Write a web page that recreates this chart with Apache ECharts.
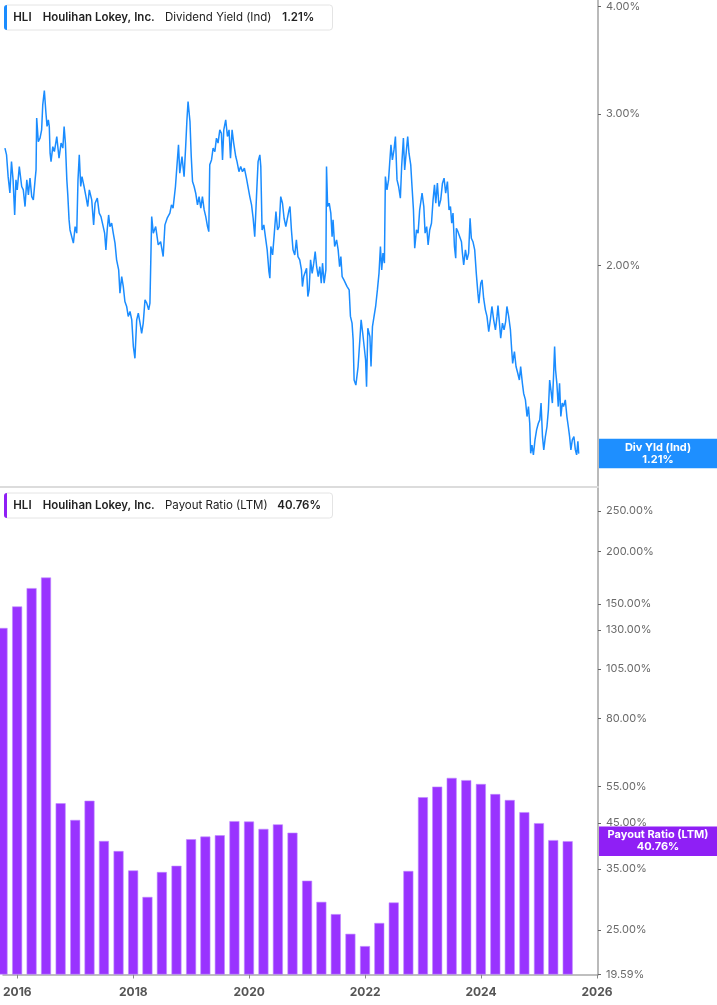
<!DOCTYPE html>
<html><head><meta charset="utf-8">
<script src="https://cdn.jsdelivr.net/npm/echarts@6/dist/echarts.min.js"></script>
<style>html,body{margin:0;padding:0;background:#fff}#c{width:717px;height:1005px}</style>
</head><body><div id="c"></div>
<script>
// ---- Dividend Yield (Ind), % ----
const divYield = [
['2015-11-03',2.738],['2015-11-13',2.689],['2015-11-23',2.537],['2015-12-04',2.429],['2015-12-14',2.641],['2015-12-24',2.515],
['2016-01-03',2.290],['2016-01-11',2.515],['2016-01-19',2.449],['2016-02-01',2.606],['2016-02-16',2.471],['2016-02-26',2.449],
['2016-03-08',2.342],['2016-03-19',2.515],['2016-03-29',2.416],['2016-04-08',2.527],['2016-04-19',2.405],['2016-04-29',2.384],
['2016-05-10',2.515],['2016-05-16',2.583],['2016-05-20',2.967],['2016-05-30',2.786],['2016-06-10',2.812],['2016-06-20',2.875],
['2016-06-27',3.074],['2016-07-07',3.193],['2016-07-17',3.007],['2016-07-24',2.901],['2016-08-01',2.953],['2016-08-07',2.901],
['2016-08-12',2.701],['2016-08-18',2.641],['2016-08-29',2.749],['2016-09-08',2.713],['2016-09-23',2.824],['2016-10-07',2.665],
['2016-10-20',2.775],['2016-10-31',2.738],['2016-11-08',2.901],['2016-11-16',2.775],['2016-11-25',2.515],['2016-12-01',2.416],
['2016-12-09',2.260],['2016-12-15',2.200],['2016-12-26',2.190],
['2017-01-05',2.124],['2017-01-16',2.220],['2017-01-26',2.181],['2017-02-03',2.515],['2017-02-11',2.689],['2017-02-20',2.471],
['2017-02-28',2.537],['2017-03-13',2.471],['2017-03-25',2.405],['2017-04-05',2.342],['2017-04-15',2.449],['2017-04-30',2.384],
['2017-05-12',2.230],['2017-05-21',2.363],['2017-06-04',2.395],['2017-06-16',2.301],['2017-06-27',2.280],['2017-07-11',2.220],
['2017-07-20',2.181],['2017-07-28',2.086],['2017-08-05',2.200],['2017-08-14',2.290],['2017-08-22',2.220],['2017-09-02',2.240],
['2017-09-12',2.181],['2017-09-23',2.124],['2017-10-03',2.031],['2017-10-16',1.977],['2017-10-24',1.858],['2017-11-04',1.942],
['2017-11-14',1.891],['2017-11-24',1.817],['2017-12-05',1.793],['2017-12-15',1.746],['2017-12-26',1.769],
['2018-01-06',1.730],['2018-01-16',1.611],['2018-01-26',1.561],['2018-02-06',1.730],['2018-02-16',1.761],['2018-02-27',1.715],
['2018-03-09',1.669],['2018-03-19',1.715],['2018-03-30',1.825],['2018-04-10',1.809],['2018-04-22',1.777],['2018-04-30',1.809],
['2018-05-11',2.280],['2018-05-21',2.181],['2018-06-05',2.220],['2018-06-21',2.114],['2018-07-06',2.132],['2018-07-22',2.049],
['2018-08-02',2.230],['2018-08-16',2.270],['2018-09-02',2.301],['2018-09-12',2.352],['2018-09-22',2.332],['2018-10-07',2.471],
['2018-10-13',2.561],['2018-10-26',2.762],['2018-11-03',2.561],['2018-11-17',2.677],['2018-11-30',2.537],['2018-12-10',2.749],
['2018-12-18',2.953],['2018-12-25',3.101],
['2019-01-06',2.940],['2019-01-14',2.677],['2019-01-22',2.504],['2019-02-01',2.471],['2019-02-11',2.427],['2019-02-22',2.352],
['2019-03-04',2.405],['2019-03-15',2.332],['2019-03-25',2.405],['2019-04-05',2.321],['2019-04-15',2.280],['2019-04-26',2.220],
['2019-05-04',2.190],['2019-05-10',2.618],['2019-05-21',2.653],['2019-05-31',2.738],['2019-06-11',2.713],['2019-06-21',2.812],
['2019-07-01',2.775],['2019-07-12',2.875],['2019-07-22',2.849],['2019-07-29',2.653],['2019-08-06',2.875],['2019-08-18',2.953],
['2019-08-29',2.824],['2019-09-08',2.875],['2019-09-17',2.665],['2019-09-27',2.875],['2019-10-07',2.775],['2019-10-20',2.677],
['2019-10-28',2.641],['2019-11-09',2.571],['2019-11-20',2.606],['2019-12-01',2.571],['2019-12-13',2.595],['2019-12-26',2.527],
['2020-01-06',2.515],['2020-01-16',2.405],['2020-01-27',2.352],['2020-02-06',2.270],['2020-02-16',2.161],['2020-02-27',2.405],
['2020-03-08',2.641],['2020-03-19',2.689],['2020-03-25',2.606],['2020-04-02',2.200],['2020-04-13',2.230],['2020-04-24',2.152],
['2020-05-04',2.086],['2020-05-15',1.968],['2020-05-21',1.934],['2020-05-27',2.105],['2020-06-07',2.058],['2020-06-17',2.171],
['2020-06-28',2.311],['2020-07-08',2.200],['2020-07-18',2.220],['2020-07-28',2.405],['2020-08-08',2.363],['2020-08-18',2.270],
['2020-08-29',2.220],['2020-09-08',2.270],['2020-09-18',2.321],['2020-09-24',2.342],['2020-10-03',2.200],['2020-10-13',2.086],
['2020-10-24',2.058],['2020-11-03',2.142],['2020-11-13',2.049],['2020-11-24',2.031],['2020-12-05',1.977],['2020-12-11',1.891],
['2020-12-19',1.942],['2020-12-26',1.959],
['2021-01-06',1.986],['2021-01-14',1.841],['2021-01-22',1.874],['2021-01-31',2.031],['2021-02-10',1.959],['2021-02-20',2.013],
['2021-03-01',2.076],['2021-03-10',1.994],['2021-03-20',1.942],['2021-03-30',1.994],['2021-04-08',1.908],['2021-04-16',2.013],
['2021-04-26',1.908],['2021-05-07',1.977],['2021-05-11',2.606],['2021-05-18',2.342],['2021-05-28',2.363],['2021-06-07',2.301],
['2021-06-15',2.161],['2021-06-21',2.260],['2021-07-01',2.105],['2021-07-13',2.142],['2021-07-23',2.086],['2021-08-01',1.994],
['2021-08-09',2.049],['2021-08-17',1.942],['2021-08-28',1.925],['2021-09-07',1.934],['2021-09-17',1.891],['2021-09-30',1.874],
['2021-10-08',1.746],['2021-10-18',1.715],['2021-10-25',1.640],['2021-10-31',1.473],['2021-11-11',1.453],['2021-11-25',1.527],
['2021-12-06',1.640],['2021-12-14',1.730],['2021-12-24',1.669],
['2022-01-02',1.611],['2022-01-11',1.554],['2022-01-17',1.447],['2022-01-25',1.692],['2022-02-07',1.654],['2022-02-14',1.527],
['2022-02-23',1.699],['2022-03-05',1.746],['2022-03-15',1.793],['2022-03-26',1.874],['2022-04-05',1.959],['2022-04-14',2.105],
['2022-04-22',1.977],['2022-04-30',2.068],['2022-05-09',2.013],['2022-05-15',2.537],['2022-05-25',2.449],['2022-06-04',2.515],
['2022-06-11',2.630],['2022-06-19',2.762],['2022-06-28',2.653],['2022-07-08',2.725],['2022-07-17',2.824],['2022-07-27',2.515],
['2022-08-06',2.471],['2022-08-17',2.395],['2022-08-25',2.606],['2022-09-05',2.812],['2022-09-13',2.583],['2022-09-24',2.725],
['2022-10-02',2.824],['2022-10-10',2.701],['2022-10-21',2.618],['2022-10-29',2.471],['2022-11-07',2.321],['2022-11-15',2.095],
['2022-11-26',2.200],['2022-12-06',2.181],['2022-12-16',2.321],['2022-12-31',2.427],
['2023-01-11',2.342],['2023-01-19',2.181],['2023-01-29',2.220],['2023-02-07',2.114],['2023-02-17',2.200],['2023-02-28',2.240],
['2023-03-10',2.384],['2023-03-19',2.482],['2023-03-27',2.363],['2023-04-06',2.493],['2023-04-16',2.342],['2023-04-27',2.384],
['2023-05-08',2.493],['2023-05-18',2.527],['2023-05-28',2.427],['2023-06-08',2.504],['2023-06-18',2.321],['2023-06-27',2.342],
['2023-07-05',2.240],['2023-07-13',2.301],['2023-07-22',2.105],['2023-07-30',2.040],['2023-08-03',2.210],['2023-08-13',2.190],
['2023-08-24',2.200],['2023-09-04',2.132],['2023-09-10',2.068],['2023-09-18',2.004],['2023-09-29',2.086],['2023-10-09',2.031],
['2023-10-19',2.068],['2023-10-28',2.270],['2023-11-05',2.152],['2023-11-15',2.132],['2023-11-26',2.086],['2023-12-06',1.959],
['2023-12-16',1.858],['2023-12-22',1.809],
['2024-01-03',1.908],['2024-01-11',1.925],['2024-01-21',1.833],['2024-02-01',1.777],['2024-02-11',1.746],['2024-02-22',1.676],
['2024-03-03',1.730],['2024-03-13',1.793],['2024-03-24',1.730],['2024-04-04',1.684],['2024-04-14',1.746],['2024-04-20',1.797],
['2024-05-01',1.699],['2024-05-07',1.647],['2024-05-18',1.715],['2024-05-28',1.684],['2024-06-07',1.722],['2024-06-15',1.793],
['2024-06-26',1.746],['2024-07-07',1.684],['2024-07-15',1.596],['2024-07-21',1.540],['2024-08-01',1.589],['2024-08-11',1.527],
['2024-08-22',1.500],['2024-09-01',1.473],['2024-09-09',1.527],['2024-09-20',1.460],['2024-09-28',1.421],['2024-10-09',1.397],
['2024-10-19',1.336],['2024-10-28',1.372],['2024-11-05',1.312],['2024-11-11',1.211],['2024-11-19',1.238],['2024-11-28',1.206],
['2024-12-08',1.255],['2024-12-18',1.289],['2024-12-29',1.312],
['2025-01-07',1.324],['2025-01-15',1.385],['2025-01-24',1.266],['2025-02-01',1.222],['2025-02-11',1.266],['2025-02-21',1.300],
['2025-03-02',1.360],['2025-03-10',1.473],['2025-03-18',1.434],['2025-03-27',1.385],['2025-04-04',1.500],['2025-04-10',1.611],
['2025-04-16',1.513],['2025-04-24',1.460],['2025-05-03',1.372],['2025-05-11',1.460],['2025-05-19',1.336],['2025-05-28',1.385],
['2025-06-05',1.372],['2025-06-16',1.397],['2025-06-26',1.336],['2025-07-05',1.300],['2025-07-13',1.266],['2025-07-21',1.222],
['2025-07-30',1.255],['2025-08-09',1.266],['2025-08-18',1.222],['2025-08-26',1.206],['2025-09-03',1.250],['2025-09-08',1.210]
];

// ---- Payout Ratio (LTM), %, quarterly ----
const payoutDates = [
'2015-09-30','2015-12-31','2016-03-31','2016-06-30','2016-09-30','2016-12-31','2017-03-31','2017-06-30',
'2017-09-30','2017-12-31','2018-03-31','2018-06-30','2018-09-30','2018-12-31','2019-03-31','2019-06-30',
'2019-09-30','2019-12-31','2020-03-31','2020-06-30','2020-09-30','2020-12-31','2021-03-31','2021-06-30',
'2021-09-30','2021-12-31','2022-03-31','2022-06-30','2022-09-30','2022-12-31','2023-03-31','2023-06-30',
'2023-09-30','2023-12-31','2024-03-31','2024-06-30','2024-09-30','2024-12-31','2025-03-31','2025-06-30'];
const payoutValues = [
131.5,148.0,163.7,173.5,50.2,45.8,50.9,40.8,
38.6,34.7,30.0,34.4,35.6,41.2,41.8,42.1,
45.5,45.4,43.6,44.7,42.7,32.8,29.2,27.3,
24.5,22.9,26.0,29.1,34.6,51.9,55.0,57.7,
57.0,55.8,52.8,51.1,47.8,45.0,41.0,40.76];

// ---- ticks / labels ----
const yieldTicks = [2, 3, 4];
const payoutTicks = [19.59, 25, 35, 45, 55, 80, 105, 130, 150, 200, 250];
const yearTicks = ['2016-01-01','2018-01-01','2020-01-01','2022-01-01','2024-01-01','2026-01-01'];
const ticker = 'HLI';
const company = 'Houlihan Lokey, Inc.';
const yieldName = 'Dividend Yield (Ind)';
const payoutName = 'Payout Ratio (LTM)';
const latestYield = 1.21;
const latestPayout = 40.76;

const FONT = 'Inter, "Noto Sans", Arial, sans-serif';
const BLUE = '#1a8cff', PURPLE = '#9933ff', PURPLE_DARK = '#8f1ff5';
const ts = s => +new Date(s + 'T00:00:00');
const xMin = ts('2015-10-03'), xMax = ts('2026-01-07');
const yearTs = yearTicks.map(ts);

const chart = echarts.init(document.getElementById('c'), null, {renderer: 'canvas'});

const yAxisCommon = {
  position: 'right',
  axisLine: {show: true, lineStyle: {color: '#a3a3a3', width: 1.5}},
  axisTick: {show: true, length: 3, lineStyle: {color: '#666', width: 1}},
  splitLine: {show: false},
  axisLabel: {color: '#6a6a6a', fontSize: 11, fontFamily: FONT, margin: 8,
              formatter: v => Number(v).toFixed(2) + '%'}
};

chart.setOption({
  animation: false,
  backgroundColor: '#fff',
  grid: [
    {left: 0, right: 119, top: 0, height: 487},
    {left: 0, right: 119, top: 487, height: 487.5}
  ],
  xAxis: [
    {type: 'value', gridIndex: 0, min: xMin, max: xMax, scale: true,
     axisLine: {show: true, onZero: false, lineStyle: {color: '#dcdcdc', width: 2}},
     axisTick: {show: false}, axisLabel: {show: false}, splitLine: {show: false}},
    {type: 'value', gridIndex: 1, min: xMin, max: xMax, scale: true,
     axisLine: {show: true, onZero: false, lineStyle: {color: '#aaaaaa', width: 1.5}},
     axisTick: {show: true, customValues: yearTs, length: 4, lineStyle: {color: '#888'}},
     axisLabel: {customValues: yearTs, formatter: v => String(new Date(v).getFullYear()),
                 color: '#555', fontWeight: 'bold', fontSize: 12, fontFamily: FONT, margin: 12,
                 showMinLabel: true, showMaxLabel: true},
     splitLine: {show: false}}
  ],
  yAxis: [
    Object.assign({}, yAxisCommon, {type: 'log', logBase: 10, gridIndex: 0, min: 1.1066, max: 4.068,
      axisTick: Object.assign({}, yAxisCommon.axisTick, {customValues: yieldTicks}),
      axisLabel: Object.assign({}, yAxisCommon.axisLabel, {customValues: yieldTicks})}),
    Object.assign({}, yAxisCommon, {type: 'log', logBase: 10, gridIndex: 1, min: 19.59, max: 285.3, startValue: 19.59,
      axisTick: Object.assign({}, yAxisCommon.axisTick, {customValues: payoutTicks}),
      axisLabel: Object.assign({}, yAxisCommon.axisLabel, {customValues: payoutTicks})})
  ],
  series: [
    {type: 'line', name: yieldName, xAxisIndex: 0, yAxisIndex: 0,
     data: divYield.map(([d, v]) => [ts(d), v]),
     showSymbol: false, symbol: 'none', clip: true,
     lineStyle: {color: BLUE, width: 1.5}},
    {type: 'bar', name: payoutName, xAxisIndex: 1, yAxisIndex: 1,
     data: payoutDates.map((d, i) => [ts(d), payoutValues[i]]),
     barWidth: 10, clip: true,
     itemStyle: {color: PURPLE, borderColor: '#c08cff', borderWidth: 0.6}}
  ]
});

function legend(y, color, name, value, xName, xValue) {
  const cy = y + 12.5;
  const txt = (x, s, bold) => ({type: 'text', x: x, y: cy, silent: true,
    style: {text: s, fill: '#222', font: (bold ? '600 ' : '') + '11.5px ' + FONT,
            textVerticalAlign: 'middle', textAlign: 'left'}});
  return {type: 'group', children: [
    {type: 'rect', shape: {x: 4.5, y: y, width: 328, height: 25, r: 3},
     style: {fill: '#fff', stroke: '#e4e4e4', lineWidth: 1}},
    {type: 'rect', shape: {x: 4, y: y, width: 3, height: 25, r: [3, 0, 0, 3]}, style: {fill: color}},
    txt(13.3, ticker, true), txt(42.7, company, true), txt(xName, name, false), txt(xValue, value, true)
  ]};
}

function valueBox(cy, color, l1, l2) {
  return {type: 'group', children: [
    {type: 'rect', shape: {x: 599, y: cy - 14.75, width: 118, height: 29.5}, style: {fill: color}},
    {type: 'text', x: 658, y: cy, style: {text: l1 + '\n' + l2, fill: '#fff',
      font: 'bold 11px ' + FONT, lineHeight: 12, textAlign: 'center', textVerticalAlign: 'middle'}}
  ]};
}

const yY = chart.convertToPixel({xAxisIndex: 0, yAxisIndex: 0}, [xMax, latestYield])[1];
const yP = chart.convertToPixel({xAxisIndex: 1, yAxisIndex: 1}, [xMax, latestPayout])[1];

chart.setOption({
  graphic: [
    legend(5, BLUE, yieldName, latestYield.toFixed(2) + '%', 165, 282.3),
    legend(493, PURPLE_DARK, payoutName, latestPayout.toFixed(2) + '%', 165, 277.3),
    valueBox(yY, '#1e8fff', 'Div Yld (Ind)', latestYield.toFixed(2) + '%'),
    valueBox(yP, PURPLE_DARK, payoutName, latestPayout.toFixed(2) + '%')
  ]
});
</script>
</body></html>
